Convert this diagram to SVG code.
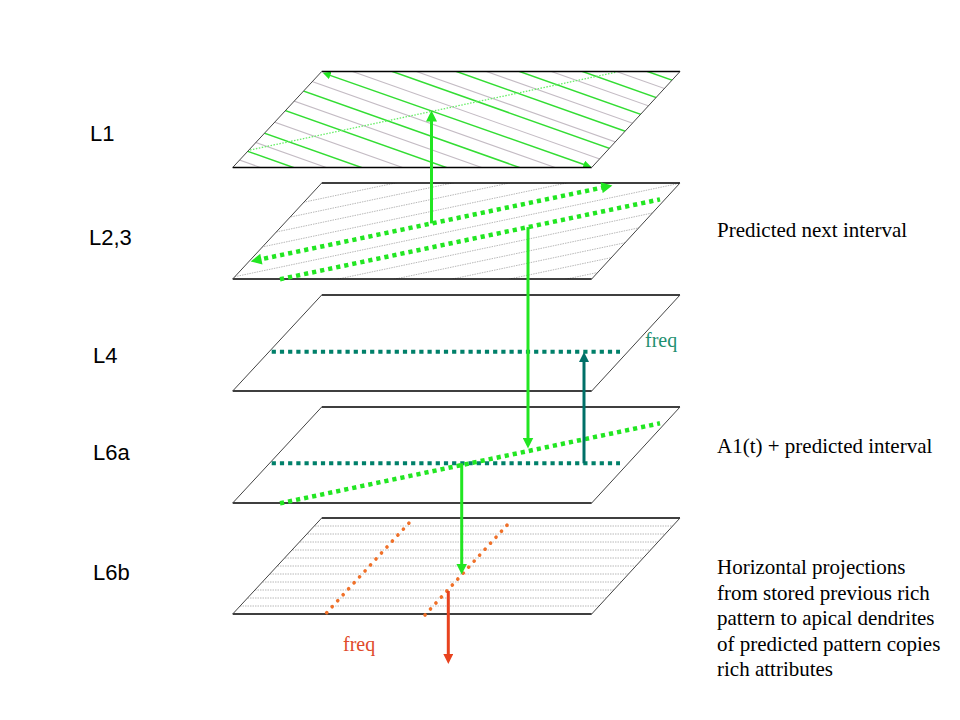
<svg xmlns="http://www.w3.org/2000/svg" width="960" height="720" viewBox="0 0 960 720">
<style>
.plane{fill:#fff;stroke:none}
.edgeH{stroke:#000;stroke-width:1.5;fill:none}
.edgeS{stroke:#444;stroke-width:1;fill:none}
.hg{stroke:#33DD33;stroke-width:1.5}
.hy{stroke:#C4BCC4;stroke-width:1.1}
.gdot{stroke:#B8B8B8;stroke-width:1;stroke-dasharray:1.5 1}
.lab{font-family:"Liberation Sans",Arial,sans-serif;font-size:22px;fill:#000}
.note{font-family:"Liberation Serif","Times New Roman",serif;font-size:21px;fill:#000}
.green{stroke:#22E622;stroke-width:3;fill:none}
.gdotted{stroke:#22E622;stroke-width:4.5;stroke-dasharray:4.2 4;fill:none}
.tdotted{stroke:#00806A;stroke-width:4;stroke-dasharray:4.2 4;fill:none}
.odotted{stroke:#F07028;stroke-width:3.6;stroke-dasharray:0.1 8;stroke-linecap:round;fill:none}
</style>
<defs>
<marker id="ag" viewBox="0 0 10 10" refX="5" refY="5" markerWidth="11" markerHeight="11" markerUnits="userSpaceOnUse" orient="auto-start-reverse"><path d="M0,0 L10,5 L0,10 z" fill="#22E622"/></marker>
<marker id="agl" viewBox="0 0 10 10" refX="5" refY="5" markerWidth="13" markerHeight="11" markerUnits="userSpaceOnUse" orient="auto-start-reverse"><path d="M0,0 L10,5 L0,10 z" fill="#22E622"/></marker>
<marker id="as" viewBox="0 0 10 10" refX="5" refY="5" markerWidth="8" markerHeight="8" markerUnits="userSpaceOnUse" orient="auto-start-reverse"><path d="M0,0 L10,5 L0,10 z" fill="#22E622"/></marker>
<marker id="at" viewBox="0 0 10 10" refX="5" refY="5" markerWidth="10" markerHeight="10" markerUnits="userSpaceOnUse" orient="auto"><path d="M0,0 L10,5 L0,10 z" fill="#007068"/></marker>
<marker id="ar" viewBox="0 0 10 10" refX="5" refY="5" markerWidth="10" markerHeight="10" markerUnits="userSpaceOnUse" orient="auto"><path d="M0,0 L10,5 L0,10 z" fill="#E8421E"/></marker>
<clipPath id="c1"><path d="M321.7,71.5 L680,71.5 L591.7,167.5 L232.7,167.5 Z"/></clipPath>
<clipPath id="c2"><path d="M321.7,183 L680,183 L591.7,279 L232.7,279 Z"/></clipPath>
<clipPath id="c5"><path d="M321.7,518 L680,518 L591.7,614 L232.7,614 Z"/></clipPath>
</defs>
<rect width="960" height="720" fill="#fff"/>

<g id="plane-L1">
<path class="plane" d="M321.7,71.5 L680,71.5 L591.7,167.5 L232.7,167.5 Z"/>
<g clip-path="url(#c1)">
<g class="hy">
<line x1="220" y1="-68.8" x2="700" y2="101.1"/>
<line x1="220" y1="-45.8" x2="700" y2="124.1"/>
<line x1="220" y1="-22.8" x2="700" y2="147.1"/>
<line x1="220" y1="2" x2="700" y2="171.9"/>
<line x1="220" y1="24.6" x2="700" y2="194.5"/>
<line x1="220" y1="48.9" x2="700" y2="218.8"/>
<line x1="220" y1="74.9" x2="700" y2="244.8"/>
<line x1="220" y1="102.9" x2="700" y2="272.8"/>
<line x1="220" y1="129.9" x2="700" y2="299.8"/>
<line x1="220" y1="153.2" x2="700" y2="323.1"/>
</g>
<g class="hg">
<line x1="220" y1="-79.8" x2="700" y2="90.1"/>
<line x1="220" y1="-56.8" x2="700" y2="113.1"/>
<line x1="220" y1="-34.5" x2="700" y2="135.4"/>
<line x1="220" y1="-12.2" x2="700" y2="157.7"/>
<line x1="220" y1="10.5" x2="700" y2="180.4"/>
<line x1="220" y1="61.5" x2="700" y2="231.4"/>
<line x1="220" y1="87.4" x2="700" y2="257.3"/>
<line x1="220" y1="117.4" x2="700" y2="287.3"/>
<line x1="220" y1="141.5" x2="700" y2="311.4"/>
</g>
<line x1="250" y1="150" x2="617" y2="72" stroke="#66EE66" stroke-width="1.3" stroke-dasharray="1.5 1.5"/>
</g>
<line class="hg" x1="326.5" y1="74.1" x2="587.5" y2="165.7" marker-start="url(#as)" marker-end="url(#as)"/>
<path class="edgeH" d="M321.7,71.5 L680,71.5 M232.7,167.5 L591.7,167.5"/>
<path class="edgeS" d="M321.7,71.5 L232.7,167.5 M680,71.5 L591.7,167.5"/>
</g>

<g id="plane-L23">
<path class="plane" d="M321.7,183 L680,183 L591.7,279 L232.7,279 Z"/>
<g clip-path="url(#c2)" class="gdot">
<line x1="220" y1="219.8" x2="700" y2="119"/>
<line x1="220" y1="231.8" x2="700" y2="131"/>
<line x1="220" y1="243.8" x2="700" y2="143"/>
<line x1="220" y1="255.8" x2="700" y2="155"/>
<line x1="220" y1="279.8" x2="700" y2="179"/>
<line x1="220" y1="303.8" x2="700" y2="203"/>
<line x1="220" y1="315.8" x2="700" y2="215"/>
<line x1="220" y1="327.8" x2="700" y2="227"/>
<line x1="220" y1="339.8" x2="700" y2="239"/>
<line x1="220" y1="351.8" x2="700" y2="251"/>
</g>
<path class="edgeH" d="M321.7,183 L680,183 M232.7,279 L591.7,279"/>
<path class="edgeS" d="M321.7,183 L232.7,279 M680,183 L591.7,279"/>
</g>

<g id="plane-L4">
<path class="plane" d="M321.7,295 L680,295 L591.7,391 L232.7,391 Z"/>
<path class="edgeH" d="M321.7,295 L680,295 M232.7,391 L591.7,391"/>
<path class="edgeS" d="M321.7,295 L232.7,391 M680,295 L591.7,391"/>
</g>

<g id="plane-L6a">
<path class="plane" d="M321.7,407 L680,407 L591.7,503 L232.7,503 Z"/>
<path class="edgeH" d="M321.7,407 L680,407 M232.7,503 L591.7,503"/>
<path class="edgeS" d="M321.7,407 L232.7,503 M680,407 L591.7,503"/>
</g>

<g id="plane-L6b">
<path class="plane" d="M321.7,518 L680,518 L591.7,614 L232.7,614 Z"/>
<g clip-path="url(#c5)" class="gdot">
<line x1="220" y1="526" x2="700" y2="526"/>
<line x1="220" y1="534" x2="700" y2="534"/>
<line x1="220" y1="542" x2="700" y2="542"/>
<line x1="220" y1="550" x2="700" y2="550"/>
<line x1="220" y1="558" x2="700" y2="558"/>
<line x1="220" y1="566" x2="700" y2="566"/>
<line x1="220" y1="574" x2="700" y2="574"/>
<line x1="220" y1="582" x2="700" y2="582"/>
<line x1="220" y1="590" x2="700" y2="590"/>
<line x1="220" y1="598" x2="700" y2="598"/>
<line x1="220" y1="606" x2="700" y2="606"/>
</g>
<path class="edgeH" d="M321.7,518 L680,518 M232.7,614 L591.7,614"/>
<path class="edgeS" d="M321.7,518 L232.7,614 M680,518 L591.7,614"/>
</g>

<g id="labels">
<text class="lab" x="90" y="141">L1</text>
<text class="lab" x="89" y="245">L2,3</text>
<text class="lab" x="93" y="363">L4</text>
<text class="lab" x="93" y="460">L6a</text>
<text class="lab" x="93" y="580">L6b</text>
<text class="note" x="717" y="237">Predicted next interval</text>
<text class="note" x="717" y="453">A1(t) + predicted interval</text>
<text class="note" x="717" y="574">Horizontal projections</text>
<text class="note" x="717" y="600">from stored previous rich</text>
<text class="note" x="717" y="625">pattern to apical dendrites</text>
<text class="note" x="717" y="651">of predicted pattern copies</text>
<text class="note" x="717" y="676">rich attributes</text>
<text x="645" y="347" font-family="Liberation Serif, Times New Roman, serif" font-size="20" fill="#1E9070">freq</text>
<text x="343" y="651" font-family="Liberation Serif, Times New Roman, serif" font-size="20" fill="#E04A2A">freq</text>
</g>

<g id="connectors">
<line class="gdotted" x1="256" y1="260.3" x2="607" y2="186.6" marker-start="url(#agl)" marker-end="url(#agl)"/>
<line class="gdotted" x1="280" y1="279.2" x2="660" y2="199.4"/>
<line class="tdotted" x1="271.7" y1="351.7" x2="620" y2="351.7"/>
<line class="tdotted" x1="271.7" y1="463.3" x2="620" y2="463.3"/>
<line class="gdotted" x1="280" y1="503.3" x2="660" y2="423.3" stroke-width="4"/>
<line class="odotted" x1="326.7" y1="612.7" x2="413.3" y2="518.3"/>
<line class="odotted" x1="425" y1="615" x2="511.7" y2="520"/>
<line class="green" x1="431.5" y1="223.4" x2="431.5" y2="116" marker-end="url(#ag)"/>
<line class="green" x1="528" y1="227.1" x2="528" y2="443" marker-end="url(#ag)"/>
<line x1="584" y1="463.3" x2="584" y2="357" stroke="#007068" stroke-width="3" marker-end="url(#at)"/>
<line class="green" x1="461.7" y1="463.3" x2="461.7" y2="569" marker-end="url(#ag)"/>
<line x1="448.3" y1="591" x2="448.3" y2="659" stroke="#E8421E" stroke-width="3" marker-end="url(#ar)"/>
</g>
</svg>
